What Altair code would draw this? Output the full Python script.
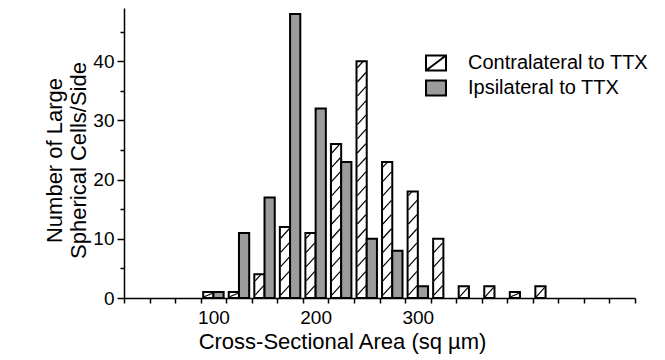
import altair as alt
import pandas as pd

# ---- data ----
series = ["Contralateral to TTX", "Ipsilateral to TTX"]
bin_centers = [100, 125, 150, 175, 200, 225, 250, 275, 300, 325, 350, 375, 400, 425]
contra_counts = [1, 1, 4, 12, 11, 26, 40, 23, 18, 10, 2, 2, 1, 2]
ipsi_counts = [1, 11, 17, 48, 32, 23, 10, 8, 2, 0, 0, 0, 0, 0]
x_tick_values = [12.5, 37.5, 62.5, 87.5, 112.5, 137.5, 162.5, 187.5, 212.5, 237.5,
                 262.5, 287.5, 312.5, 337.5, 362.5, 387.5, 412.5, 437.5, 462.5,
                 487.5, 512.5]
x_label_values = [100, 200, 300]
y_tick_values = [0, 5, 10, 15, 20, 25, 30, 35, 40, 45]
x_domain = [12.5, 512.5]
y_domain = [0, 49]

FONT = "Liberation Sans"
BAR_W = 10          # bar width in data units (styling)
RISE, STEP = 1.6, 2.4  # hatch geometry (styling)
IPSI_GRAY = "#9c9c9c"

rows = []
for c, a, b in zip(bin_centers, contra_counts, ipsi_counts):
    rows.append({"center": c, "series": series[0], "count": a, "side": -1})
    rows.append({"center": c, "series": series[1], "count": b, "side": 0})
bars_df = pd.DataFrame(rows)
bars_df = bars_df[bars_df["count"] > 0]

# hatch segments derived from the contralateral bars
hatch_rows = []
for c, h in zip(bin_centers, contra_counts):
    if h <= 0:
        continue
    xl = c - BAR_W + 0.8
    xr = c - 0.8
    if h <= 2.5:
        hatch_rows.append({"x1": xl, "x2": xr, "y1": 0.2, "y2": h - 0.2})
        continue
    y0 = 0.5
    while y0 < h - 0.4:
        y1 = y0 + RISE
        xe = xr
        if y1 > h:
            xe = xl + (h - y0) / RISE * (xr - xl)
            y1 = h
        hatch_rows.append({"x1": xl, "x2": xe, "y1": y0, "y2": y1})
        y0 += STEP
hatch_df = pd.DataFrame(hatch_rows)

xscale = alt.Scale(domain=x_domain, nice=False, zero=False)
yscale = alt.Scale(domain=y_domain, nice=False)

x_title = "Cross-Sectional Area (sq µm)"
y_title = ["Number of Large", "Spherical Cells/Side"]

xaxis = alt.Axis(
    title=x_title,
    values=x_tick_values + x_label_values,
    labelExpr="datum.value % 100 == 0 ? datum.label : ''",
    tickOpacity={"condition": {"test": "datum.value % 25 == 0", "value": 0}, "value": 1},
    tickSize=5,
    labelPadding=5,
    labelOverlap=False,
    titleX=218,
    titleY=50,
    titleBaseline="alphabetic",
    titleAnchor="middle",
    titleAlign="center",
    grid=False,
)
yaxis = alt.Axis(
    title=y_title,
    values=y_tick_values,
    labelExpr="datum.value % 10 == 0 ? datum.label : ''",
    tickSize={"condition": {"test": "datum.value % 10 == 0", "value": 7}, "value": 4},
    labelPadding=3,
    labelOverlap=False,
    titleX=-58,
    titleY=152,
    titleBaseline="bottom",
    grid=False,
)

bars = alt.Chart(bars_df).transform_calculate(
    left=f"datum.center + datum.side * {BAR_W}",
    right=f"datum.center + (datum.side + 1) * {BAR_W}",
).mark_rect(stroke="black", strokeWidth=2).encode(
    x=alt.X("left:Q", scale=xscale, axis=xaxis),
    x2="right:Q",
    y=alt.Y("count:Q", scale=yscale, axis=yaxis),
    y2=alt.datum(0),
    fill=alt.condition(alt.datum.series == series[0], alt.value("white"), alt.value(IPSI_GRAY)),
)

hatch = alt.Chart(hatch_df).mark_rule(color="black", strokeWidth=1.2).encode(
    x=alt.X("x1:Q", scale=xscale, axis=xaxis),
    x2="x2:Q",
    y=alt.Y("y1:Q", scale=yscale, axis=yaxis),
    y2="y2:Q",
)

path_contra = "M-1,-0.75H1V0.75H-1Z M-1,0.75L1,-0.75"
path_ipsi = "M-1,-0.75H1V0.75H-1Z"
leg = alt.Legend(
    title=None,
    orient="none",
    legendX=301,
    legendY=44,
    padding=0,
    rowPadding=1,
    symbolSize=400,
    symbolStrokeWidth=2,
    symbolOpacity=1,
    labelOffset=21,
    labelFont=FONT,
    labelFontSize=20,
    labelColor="black",
    labelLimit=400,
)
leg_df = pd.DataFrame({"series": series, "center": [bin_centers[0]] * 2, "count": [0, 0]})
legend_layer = alt.Chart(leg_df).mark_point(
    opacity=0, filled=True, strokeWidth=2
).encode(
    x=alt.X("center:Q", scale=xscale, axis=xaxis),
    y=alt.Y("count:Q", scale=yscale, axis=yaxis),
    shape=alt.Shape("series:N", scale=alt.Scale(domain=series, range=[path_contra, path_ipsi]), legend=leg),
    fill=alt.Fill("series:N", scale=alt.Scale(domain=series, range=["white", IPSI_GRAY]), legend=leg),
    stroke=alt.Stroke("series:N", scale=alt.Scale(domain=series, range=["black", "black"]), legend=leg),
)

chart = alt.layer(bars, hatch, legend_layer).properties(
    width=511,
    height=290,
    padding={"left": 124, "top": 8, "right": 30, "bottom": 62},
    autosize=alt.AutoSizeParams(type="none"),
).configure_view(stroke=None).configure_axis(
    domainColor="black",
    domainWidth=1.5,
    tickColor="black",
    tickWidth=1.5,
    labelFont=FONT,
    labelFontSize=19,
    labelColor="black",
    titleFont=FONT,
    titleFontSize=22,
    titleFontWeight="normal",
    titleColor="black",
)

chart.save("out.html", embed_options={"renderer": "svg", "actions": False})
